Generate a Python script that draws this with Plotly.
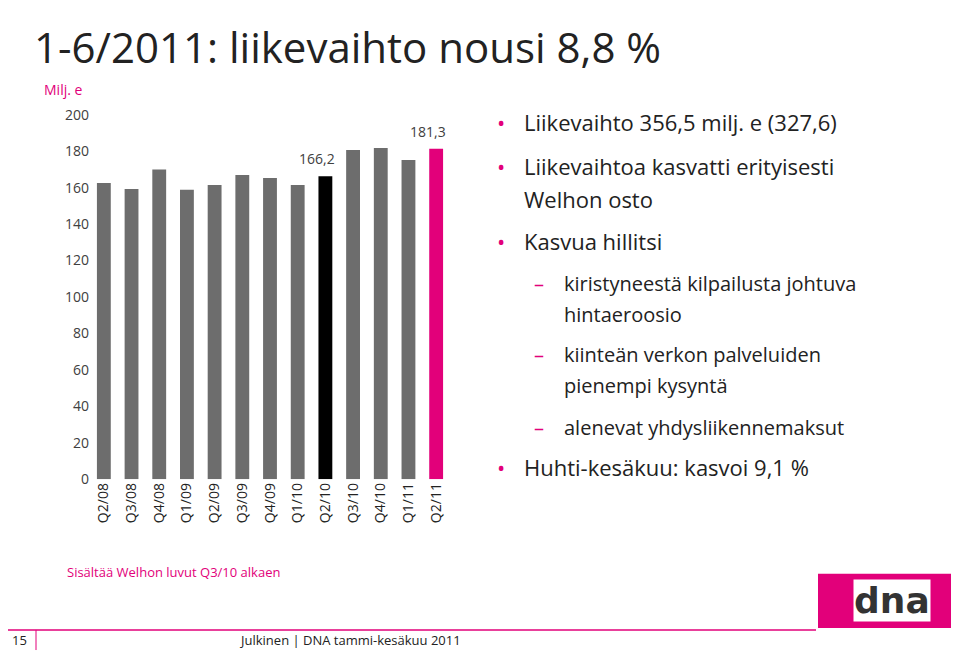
import plotly.graph_objects as go

quarters = ["Q2/08","Q3/08","Q4/08","Q1/09","Q2/09","Q3/09","Q4/09","Q1/10","Q2/10","Q3/10","Q4/10","Q1/11","Q2/11"]
values = [162.5,159.2,170.0,158.8,161.4,167.0,165.3,161.4,166.2,180.7,181.8,175.2,181.3]
colors = ["#6d6d6d"]*8 + ["#000000"] + ["#6d6d6d"]*3 + ["#e2007a"]
label_idx = [8, 12]
label_txt = ["166,2", "181,3"]

W, H = 959, 660
def px(x): return x/W
def py(y):
    y = (y - 20.7) / 0.967
    return 1-y/H

fig = go.Figure(go.Bar(x=quarters, y=values, marker=dict(color=colors, line=dict(width=0)), width=0.5))
for i, t in zip(label_idx, label_txt):
    fig.add_annotation(x=quarters[i], y=values[i], text=t, showarrow=False, yanchor="bottom", yshift=6,
                       xanchor="right" if i == 8 else "center",
                       xshift=12 if i == 8 else -8,
                       font=dict(size=14, color="#404040", family="Open Sans"))
fig.update_layout(
    width=W, height=H, margin=dict(l=0, r=0, t=0, b=0),
    plot_bgcolor="white", paper_bgcolor="white", showlegend=False,
    font=dict(family="Open Sans", color="#404040"),
    xaxis=dict(domain=[px(82), px(442)], tickangle=-90, tickfont=dict(size=14, color="#222"),
               showline=False, ticks=""),
    yaxis=dict(domain=[py(480), py(117)], range=[0, 200], dtick=20, showgrid=False,
               tickfont=dict(size=14, color="#404040"), ticks="", ticklen=0),
)
fig.add_annotation(xref="paper", yref="paper", x=px(24), y=1, yshift=2, text="1-6/2011: liikevaihto nousi 8,8 %",
                   showarrow=False, xanchor="left", yanchor="top",
                   font=dict(size=42, color="#222", family="Open Sans"))
ann = [
    dict(x=px(34), y=py(92), text="Milj. e", size=14, color="#e2007a"),
    dict(x=px(57), y=py(572), text="Sisältää Welhon luvut Q3/10 alkaen", size=13, color="#e2007a"),
    dict(x=px(2), y=py(640), text="15", size=13, color="#222"),
    dict(x=px(229), y=py(640), text="Julkinen | DNA tammi-kesäkuu 2011", size=13, color="#222"),
]
bullets = [
    (487, 514, 124, "•", "Liikevaihto 356,5 milj. e (327,6)", 22),
    (487, 514, 168, "•", "Liikevaihtoa kasvatti erityisesti", 22),
    (None, 514, 201, "", "Welhon osto", 22),
    (487, 514, 243, "•", "Kasvua hillitsi", 22),
    (524, 554, 285, "–", "kiristyneestä kilpailusta johtuva", 20),
    (None, 554, 316, "", "hintaeroosio", 20),
    (524, 554, 356, "–", "kiinteän verkon palveluiden", 20),
    (None, 554, 387, "", "pienempi kysyntä", 20),
    (524, 554, 428, "–", "alenevat yhdysliikennemaksut", 20),
    (487, 514, 468, "•", "Huhti-kesäkuu: kasvoi 9,1 %", 22),
]
for bx, tx, y, b, t, s in bullets:
    if bx is not None:
        ann.append(dict(x=px(bx), y=py(y), text=b, size=s, color="#e2007a"))
    ann.append(dict(x=px(tx), y=py(y), text=t, size=s, color="#222"))
for a in ann:
    fig.add_annotation(xref="paper", yref="paper", x=a["x"], y=a["y"], text=a["text"],
        showarrow=False, xanchor="left", yanchor="middle",
        font=dict(size=a["size"], color=a["color"], family="Open Sans"))
fig.add_shape(type="line", xref="paper", yref="paper", x0=0, x1=px(808), y0=py(630), y1=py(630),
              line=dict(color="#e2007a", width=1.5))
fig.add_shape(type="line", xref="paper", yref="paper", x0=px(28), x1=px(28), y0=py(630), y1=py(650),
              line=dict(color="#e2007a", width=1))
fig.add_shape(type="rect", xref="paper", yref="paper", x0=px(810), x1=px(958), y0=py(628), y1=py(574),
              fillcolor="#e2007a", line=dict(width=0))
fig.add_annotation(xref="paper", yref="paper", x=px(884), y=py(601), text="<b>dna</b>", showarrow=False,
                   xanchor="center", yanchor="middle",
                   font=dict(size=36, color="#333", family="DejaVu Sans"),
                   bgcolor="white", borderpad=0)
fig.write_html("out.html")
